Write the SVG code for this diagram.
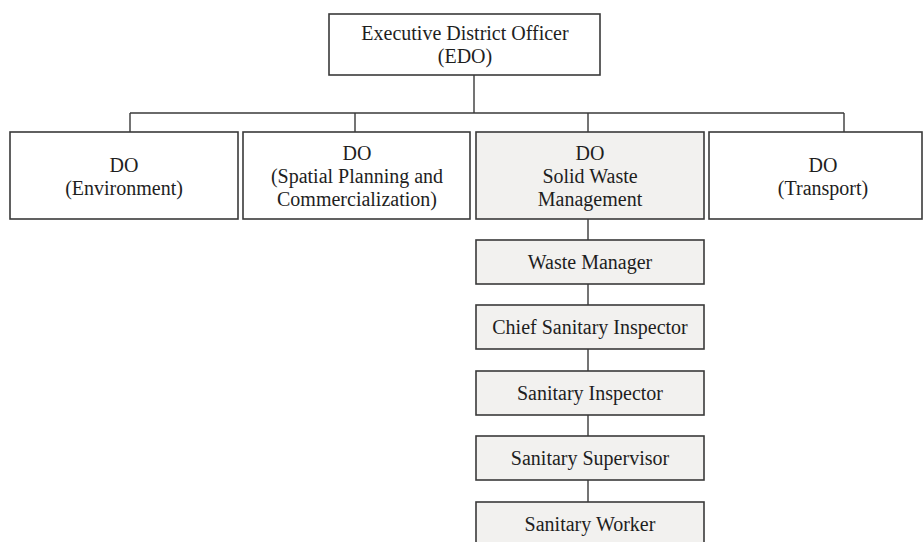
<svg xmlns="http://www.w3.org/2000/svg" width="923" height="542" viewBox="0 0 923 542">
<style>
.box{fill:#ffffff;stroke:#3a3a3a;stroke-width:1.6}
.g{fill:#f2f1ef}
.t{font-family:"Liberation Serif","Times New Roman",serif;font-size:20px;fill:#1e1e1e;text-anchor:middle}
.c{stroke:#3a3a3a;stroke-width:1.4;fill:none}
</style>
<rect width="923" height="542" fill="#ffffff"/>
<g id="connectors">
<path class="c" d="M474 75V113M130 113H844M130 113V132M355 113V132M588 113V132M844 113V132"/>
<path class="c" d="M588 219V240M588 284V305M588 349V371M588 415V436M588 480V502"/>
</g>
<g id="edo"><rect class="box" x="329" y="14" width="271" height="61"/>
<text class="t" x="465" y="40">Executive District Officer</text><text class="t" x="465" y="63">(EDO)</text></g>
<g id="do-env"><rect class="box" x="10" y="132" width="228" height="87"/>
<text class="t" x="124" y="172">DO</text><text class="t" x="124" y="195">(Environment)</text></g>
<g id="do-spatial"><rect class="box" x="243" y="132" width="227" height="87"/>
<text class="t" x="357" y="160">DO</text><text class="t" x="357" y="183">(Spatial Planning and</text><text class="t" x="357" y="206">Commercialization)</text></g>
<g id="do-swm"><rect class="box g" x="476" y="132" width="228" height="87"/>
<text class="t" x="590" y="160">DO</text><text class="t" x="590" y="183">Solid Waste</text><text class="t" x="590" y="206">Management</text></g>
<g id="do-transport"><rect class="box" x="709" y="132" width="213" height="87"/>
<text class="t" x="823" y="172">DO</text><text class="t" x="823" y="195">(Transport)</text></g>
<g id="waste-manager"><rect class="box g" x="476" y="240" width="228" height="44"/>
<text class="t" x="590" y="269">Waste Manager</text></g>
<g id="chief-inspector"><rect class="box g" x="476" y="305" width="228" height="44"/>
<text class="t" x="590" y="334">Chief Sanitary Inspector</text></g>
<g id="inspector"><rect class="box g" x="476" y="371" width="228" height="44"/>
<text class="t" x="590" y="400">Sanitary Inspector</text></g>
<g id="supervisor"><rect class="box g" x="476" y="436" width="228" height="44"/>
<text class="t" x="590" y="465">Sanitary Supervisor</text></g>
<g id="worker"><rect class="box g" x="476" y="502" width="228" height="44"/>
<text class="t" x="590" y="531">Sanitary Worker</text></g>
</svg>
